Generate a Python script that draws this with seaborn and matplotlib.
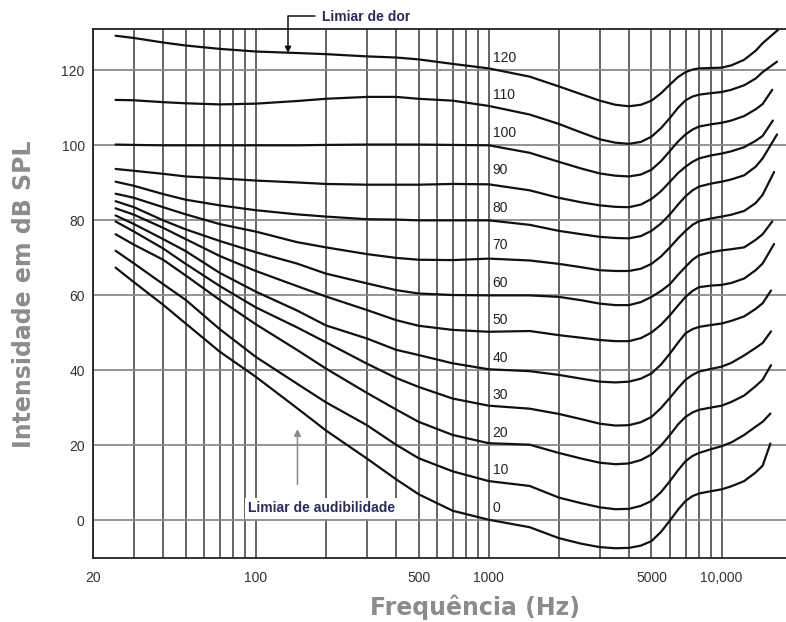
import matplotlib
matplotlib.use("Agg")
import matplotlib.pyplot as plt
import numpy as np
import pandas as pd
import seaborn as sns

# ---------------- data ----------------
FREQ_HZ = [25, 30, 40, 50, 70, 100, 150, 200, 300, 400, 500, 700, 1000, 1500, 2000,
           2500, 3000, 3500, 4000, 4500, 5000, 5500, 6000, 6500, 7000, 7500, 8000,
           9000, 10000, 11000, 12500, 14000, 15000]
PHONS = [120, 110, 100, 90, 80, 70, 60, 50, 40, 30, 20, 10, 0]
END_HZ = [18800, 17300, 16500, 16600, 17300, 16800, 16500, 16800, 16300, 16300, 16300, 16200, 16200]

phon_120 = [129.2, 128.6, 127.4, 126.6, 125.7, 125.0, 124.6, 124.3, 123.7, 123.4, 122.9, 121.7, 120.5, 118.3, 115.7,
            113.6, 111.9, 110.8, 110.4, 110.8, 111.9, 113.9, 116.2, 118.2, 119.5, 120.2, 120.5,
            120.6, 120.7, 121.3, 122.8, 125.2, 127.2, 132.5]
phon_110 = [112.1, 112.0, 111.5, 111.2, 110.9, 111.1, 111.8, 112.4, 112.9, 112.9, 112.4, 111.9, 110.5, 108.2, 105.7,
            103.4, 101.6, 100.7, 100.4, 100.9, 102.3, 104.6, 107.3, 110.0, 112.0, 113.0, 113.5,
            113.9, 114.2, 114.8, 116.0, 117.8, 119.5, 122.3]
phon_100 = [100.2, 100.1, 100.0, 100.0, 100.0, 100.0, 100.0, 100.1, 100.2, 100.2, 100.2, 100.1, 100.0, 98.0, 95.6,
            93.8, 92.5, 91.9, 91.7, 92.2, 93.5, 95.8, 98.5, 101.0, 102.9, 104.2, 105.0,
            105.6, 106.0, 106.6, 107.8, 109.6, 111.0, 114.8]
phon_90 = [93.7, 93.2, 92.4, 91.7, 91.2, 90.6, 90.1, 89.7, 89.5, 89.5, 89.5, 89.7, 89.6, 88.0, 86.0,
           84.8, 84.0, 83.6, 83.5, 84.2, 85.7, 87.8, 90.3, 92.6, 94.3, 95.6, 96.5,
           97.3, 97.8, 98.4, 99.5, 101.2, 102.5, 106.6]
phon_80 = [90.3, 89.2, 87.0, 85.5, 84.0, 82.7, 81.6, 81.0, 80.3, 80.2, 80.0, 80.0, 80.0, 78.8, 77.2,
           76.3, 75.6, 75.3, 75.2, 75.8, 77.2, 79.2, 81.6, 84.2, 86.4, 88.0, 89.0,
           89.8, 90.3, 90.9, 92.0, 94.3, 96.5, 102.9]
phon_70 = [87.1, 86.0, 83.5, 81.6, 79.0, 77.0, 74.2, 72.8, 71.0, 70.0, 69.5, 69.4, 69.8, 69.3, 68.4,
           67.5, 66.7, 66.5, 66.5, 67.1, 68.4, 70.4, 72.8, 75.2, 77.2, 78.8, 79.8,
           80.5, 81.0, 81.5, 82.5, 84.6, 86.8, 92.9]
phon_60 = [85.1, 83.5, 80.0, 77.6, 74.5, 71.5, 68.5, 65.8, 63.2, 61.4, 60.5, 60.1, 60.0, 60.0, 59.6,
           58.7, 57.8, 57.4, 57.4, 58.2, 59.6, 61.2, 63.0, 65.5, 67.6, 69.5, 70.7,
           71.5, 72.0, 72.3, 72.8, 74.8, 76.3, 79.7]
phon_50 = [83.2, 81.5, 78.0, 75.0, 70.5, 66.5, 62.5, 59.7, 56.1, 53.4, 51.9, 50.8, 50.3, 50.5, 49.4,
           48.7, 48.1, 47.8, 47.8, 48.6, 50.1, 52.2, 54.7, 57.3, 59.6, 61.2, 62.2,
           62.6, 62.8, 63.3, 64.5, 66.7, 68.5, 73.7]
phon_40 = [81.3, 79.0, 75.0, 71.8, 66.0, 61.0, 56.0, 52.0, 48.5, 45.5, 44.1, 41.9, 40.3, 39.8, 38.8,
           37.8, 37.0, 36.8, 37.0, 37.8, 39.2, 41.6, 44.5, 47.4, 49.9, 51.0, 51.6,
           52.1, 52.5, 53.2, 54.4, 56.4, 57.9, 61.3]
phon_30 = [79.7, 77.0, 72.5, 68.4, 62.5, 56.8, 51.5, 47.5, 41.8, 38.0, 35.6, 32.5, 30.6, 29.8, 28.4,
           27.0, 25.8, 25.3, 25.4, 26.2, 27.6, 30.0, 32.7, 35.3, 37.5, 38.8, 39.7,
           40.4, 41.0, 42.0, 44.0, 46.0, 47.3, 50.4]
phon_20 = [76.3, 73.5, 69.5, 65.3, 58.8, 52.3, 45.5, 40.5, 34.0, 29.6, 26.3, 22.8, 20.6, 20.2, 18.0,
           16.5, 15.4, 15.0, 15.2, 16.1, 17.6, 20.0, 22.8, 25.6, 27.6, 28.8, 29.5,
           30.1, 30.6, 31.6, 33.3, 35.8, 37.5, 41.4]
phon_10 = [71.9, 68.5, 63.0, 58.8, 51.0, 43.6, 36.5, 31.5, 25.4, 20.2, 16.6, 13.1, 10.5, 9.2, 6.1,
           4.6, 3.5, 3.0, 3.1, 3.9, 5.2, 7.6, 10.5, 13.4, 15.8, 17.2, 18.0,
           19.0, 19.8, 20.8, 22.8, 25.0, 26.3, 28.5]
phon_0 = [67.4, 63.5, 57.5, 52.5, 45.0, 38.3, 30.0, 24.0, 16.5, 11.0, 7.0, 2.6, 0.2, -1.8, -4.7,
          -6.2, -7.1, -7.4, -7.3, -6.7, -5.5, -3.0, 0.0, 2.9, 5.2, 6.5, 7.2,
          7.8, 8.3, 9.1, 10.5, 12.8, 14.6, 20.5]

CURVES = [phon_120, phon_110, phon_100, phon_90, phon_80, phon_70, phon_60,
          phon_50, phon_40, phon_30, phon_20, phon_10, phon_0]

X_TICKS = [20, 100, 500, 1000, 5000, 10000]
X_TICK_LABELS = ["20", "100", "500", "1000", "5000", "10,000"]
Y_TICKS = [0, 20, 40, 60, 80, 100, 120]

# ---------------- build table ----------------
rows = []
for phon, vals, end in zip(PHONS, CURVES, END_HZ):
    fr = FREQ_HZ + [end]
    for f, v in zip(fr, vals):
        rows.append({"freq": f, "db": v, "phon": phon})
df = pd.DataFrame(rows)

# ---------------- plot ----------------
sns.set_theme(style="white")
plt.rcParams["font.family"] = ["Liberation Sans", "DejaVu Sans"]

fig = plt.figure(figsize=(7.86, 6.22), dpi=100)
ax = fig.add_axes([93 / 786, 1 - 558 / 622, 693 / 786, (558 - 29) / 622])

ax.set_xscale("log")
ax.set_xlim(20, 18900)
ax.set_ylim(-10, 131)

# grid
minor = [m * 10 ** e for e in (1, 2, 3) for m in range(1, 10) if m * 10 ** e >= 20] + [10000]
ax.set_xticks(minor, minor=True)
ax.set_xticks(X_TICKS)
ax.set_xticklabels(X_TICK_LABELS)
ax.set_yticks(Y_TICKS)
ax.grid(True, which="both", axis="x", color="#3a3a3a", lw=1.1)
ax.grid(True, which="major", axis="y", color="#8a8a8a", lw=1.3)
ax.set_axisbelow(True)

sns.lineplot(data=df, x="freq", y="db", units="phon", estimator=None, sort=False,
             color="#111111", lw=1.6, ax=ax, legend=False)

# curve labels next to 1000 Hz line
for phon in PHONS:
    ax.text(1040, phon + 3.4, str(phon), fontsize=10, color="#222222",
            ha="left", va="center")

ax.tick_params(axis="both", which="both", length=0, labelsize=10, colors="#333333")
ax.tick_params(axis="x", pad=9)
ax.tick_params(axis="y", pad=6)
ax.xaxis.set_minor_formatter(matplotlib.ticker.NullFormatter())
for s in ("left", "bottom", "top"):
    ax.spines[s].set_color("#222222")
    ax.spines[s].set_linewidth(1.3)
ax.spines["right"].set_visible(False)
ax.set_xlabel("")
ax.set_ylabel("")

# annotations
ax.text(192, 134.2, "Limiar de dor", fontsize=10, fontweight="bold", color="#2b2b5e",
        ha="left", va="center", clip_on=False)
ax.annotate("", xy=(137.5, 124.6), xytext=(180, 134.5),
            arrowprops=dict(arrowstyle="-|>", connectionstyle="angle,angleA=0,angleB=90,rad=0",
                            color="#111111", lw=1.1, shrinkA=0, shrinkB=0, mutation_scale=9),
            annotation_clip=False)
ax.text(192, 3.2, "Limiar de audibilidade", fontsize=10, fontweight="bold", color="#2b2b5e",
        ha="center", va="center", bbox=dict(facecolor="white", edgecolor="none", pad=2.5), zorder=5)
ax.annotate("", xy=(151, 24.4), xytext=(151, 9.6),
            arrowprops=dict(arrowstyle="-|>", color="#8a8a8a", lw=1.1, shrinkA=0, shrinkB=0,
                            mutation_scale=10))

fig.text(475 / 786, 1 - 615 / 622, "Frequência (Hz)", fontsize=17, fontweight="bold",
         color="#8c8c8c", ha="center", va="baseline", family="DejaVu Sans")
fig.text(24 / 786, 1 - 294 / 622, "Intensidade em dB SPL", fontsize=17, fontweight="bold",
         color="#8c8c8c", ha="center", va="center", rotation=90, family="DejaVu Sans")

fig.savefig("out.png", dpi=100, facecolor="white")
